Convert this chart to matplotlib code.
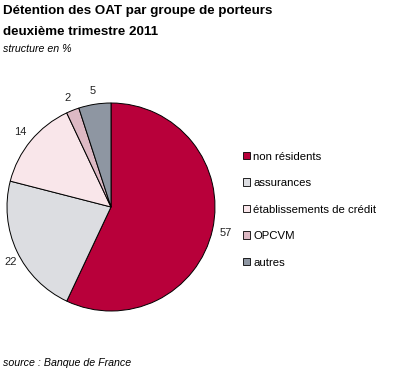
import matplotlib.pyplot as plt
from matplotlib.patches import Patch

plt.rcParams['font.family'] = ['Liberation Sans', 'DejaVu Sans']

# Data
categories = ['non résidents', 'assurances', 'établissements de crédit', 'OPCVM', 'autres']
values = [57, 22, 14, 2, 5]
colors = ['#B8003A', '#DCDDE1', '#F9E6EA', '#DDB9C4', '#8E96A2']

fig = plt.figure(figsize=(4.0, 3.77), dpi=100)

# Pie axes
ax = fig.add_axes([7 / 400, 66 / 377, 208 / 400, 208 / 377])
wedges, texts = ax.pie(values, colors=colors, startangle=90, counterclock=False,
                       labels=[str(v) for v in values], labeldistance=1.13,
                       wedgeprops=dict(edgecolor='black', linewidth=0.7),
                       textprops=dict(fontsize=8, color='#222222'))
for t in texts:
    t.set_ha('center')
    t.set_va('center')
# keep the "22" label inside the figure
texts[1].set_ha('left')
texts[1].set_va('top')
ax.set_xlim(-1, 1)
ax.set_ylim(-1, 1)
ax.set_aspect('equal')

# Titles
fig.text(3 / 400, 1 - 11 / 377, 'Détention des OAT par groupe de porteurs', fontsize=9.6,
         fontweight='bold', va='center', ha='left')
fig.text(3 / 400, 1 - 32 / 377, 'deuxième trimestre 2011', fontsize=9.6,
         fontweight='bold', va='center', ha='left')
fig.text(3 / 400, 1 - 49 / 377, 'structure en %', fontsize=7.7, style='italic',
         va='center', ha='left')
fig.text(3 / 400, 1 - 363 / 377, 'source : Banque de France', fontsize=7.7, style='italic',
         va='center', ha='left')

# Legend
handles = [Patch(facecolor=c, edgecolor='black', linewidth=0.6) for c in colors]
fig.legend(handles, categories, loc='upper left', bbox_to_anchor=(238 / 400, 1 - 147 / 377),
           frameon=False, fontsize=8.2, handlelength=0.65, handleheight=0.65,
           handletextpad=0.3, labelspacing=1.45, borderaxespad=0)

fig.savefig('out.png', dpi=100)
